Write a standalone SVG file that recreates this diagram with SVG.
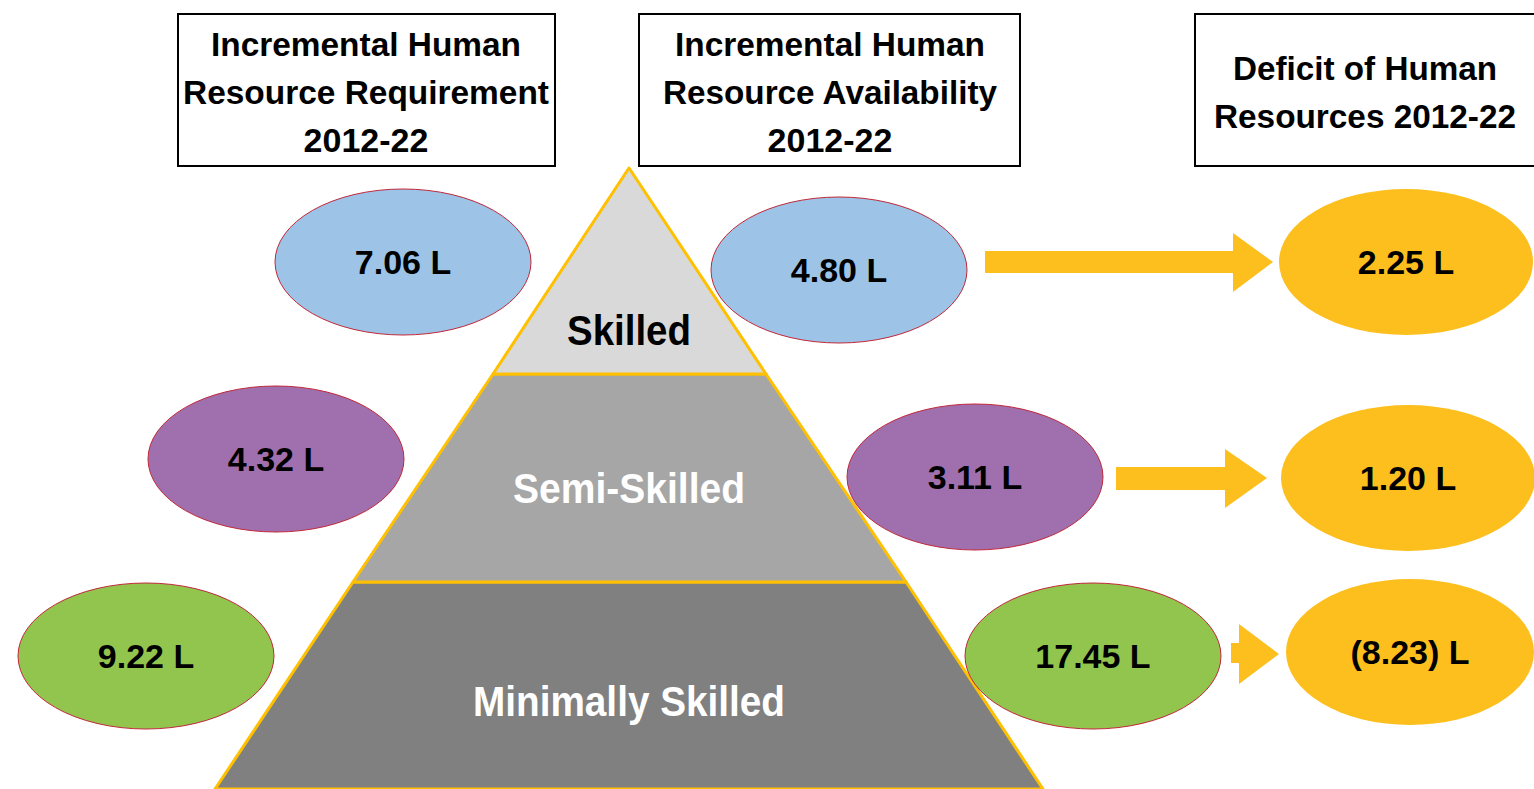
<svg xmlns="http://www.w3.org/2000/svg" width="1534" height="789" viewBox="0 0 1534 789">
<style>
.hdr{fill:#fff;stroke:#000;stroke-width:2}
.ht{font-family:"Liberation Sans Narrow","Liberation Sans",Arial,sans-serif;font-weight:bold;font-size:34px;fill:#000;text-anchor:middle}
.tier{stroke:#FFC000;stroke-width:3;stroke-linejoin:round}
.tl{font-family:"Liberation Sans Narrow","Liberation Sans",Arial,sans-serif;font-weight:bold;font-size:42px;text-anchor:middle}
.ov{stroke:#C0283A;stroke-width:1}
.ot{font-family:"Liberation Sans Narrow","Liberation Sans",Arial,sans-serif;font-weight:bold;font-size:34px;fill:#000;text-anchor:middle}
.blue{fill:#9DC3E6}
.purple{fill:#A070AE}
.green{fill:#92C54E}
.orange{fill:#FCBF1E}
.arr{fill:#FCBF1E}
</style>
<rect width="1534" height="789" fill="#fff"/>
<g id="hdr-req"><rect class="hdr" x="178" y="14" width="377" height="152"/>
<text class="ht" x="366" y="56" textLength="310" lengthAdjust="spacingAndGlyphs">Incremental Human</text>
<text class="ht" x="366" y="104" textLength="366" lengthAdjust="spacingAndGlyphs">Resource Requirement</text>
<text class="ht" x="366" y="152">2012-22</text></g>
<g id="hdr-avail"><rect class="hdr" x="639" y="14" width="381" height="152"/>
<text class="ht" x="830" y="56" textLength="310" lengthAdjust="spacingAndGlyphs">Incremental Human</text>
<text class="ht" x="830" y="104" textLength="334" lengthAdjust="spacingAndGlyphs">Resource Availability</text>
<text class="ht" x="830" y="152">2012-22</text></g>
<g id="hdr-def"><rect class="hdr" x="1195" y="14" width="345" height="152"/>
<text class="ht" x="1365" y="80" textLength="264" lengthAdjust="spacingAndGlyphs">Deficit of Human</text>
<text class="ht" x="1365" y="128" textLength="302" lengthAdjust="spacingAndGlyphs">Resources 2012-22</text></g>
<g id="tier-minimal"><polygon class="tier" fill="#808080" points="353,582 906,582 1043,789 215,789"/>
<text class="tl" x="629" y="716" fill="#fff" textLength="312" lengthAdjust="spacingAndGlyphs">Minimally Skilled</text></g>
<g id="tier-semi"><polygon class="tier" fill="#A6A6A6" points="493,374 766,374 906,582 353,582"/>
<text class="tl" x="629" y="503" fill="#fff" textLength="232" lengthAdjust="spacingAndGlyphs">Semi-Skilled</text></g>
<g id="tier-skilled"><polygon class="tier" fill="#D9D9D9" points="629,168 766,374 493,374"/>
<text class="tl" x="629" y="345" fill="#000" textLength="124" lengthAdjust="spacingAndGlyphs">Skilled</text></g>
<g id="req-skilled"><ellipse class="ov blue" cx="403" cy="262" rx="128" ry="73"/><text class="ot" x="403" y="274">7.06 L</text></g>
<g id="av-skilled"><ellipse class="ov blue" cx="839" cy="270" rx="128" ry="73"/><text class="ot" x="839" y="282">4.80 L</text></g>
<g id="def-skilled"><ellipse class="orange" cx="1406" cy="262" rx="127" ry="73"/><text class="ot" x="1406" y="274" fill="#333">2.25 L</text></g>
<g id="req-semi"><ellipse class="ov purple" cx="276" cy="459" rx="128" ry="73"/><text class="ot" x="276" y="471">4.32 L</text></g>
<g id="av-semi"><ellipse class="ov purple" cx="975" cy="477" rx="128" ry="73"/><text class="ot" x="975" y="489">3.11 L</text></g>
<g id="def-semi"><ellipse class="orange" cx="1408" cy="478" rx="127" ry="73"/><text class="ot" x="1408" y="490" fill="#333">1.20 L</text></g>
<g id="req-min"><ellipse class="ov green" cx="146" cy="656" rx="128" ry="73"/><text class="ot" x="146" y="668">9.22 L</text></g>
<g id="av-min"><ellipse class="ov green" cx="1093" cy="656" rx="128" ry="73"/><text class="ot" x="1093" y="668">17.45 L</text></g>
<g id="def-min"><ellipse class="orange" cx="1410" cy="652" rx="124" ry="73"/><text class="ot" x="1410" y="664" fill="#333">(8.23) L</text></g>
<g id="connectors">
<polygon class="arr" points="985,251 1233,251 1233,233 1273,262 1233,292 1233,273 985,273"/>
<polygon class="arr" points="1116,467 1225,467 1225,449 1267,478 1225,508 1225,490 1116,490"/>
<polygon class="arr" points="1231,643 1239,643 1239,624 1279,654 1239,684 1239,663 1231,663"/>
</g>
</svg>
